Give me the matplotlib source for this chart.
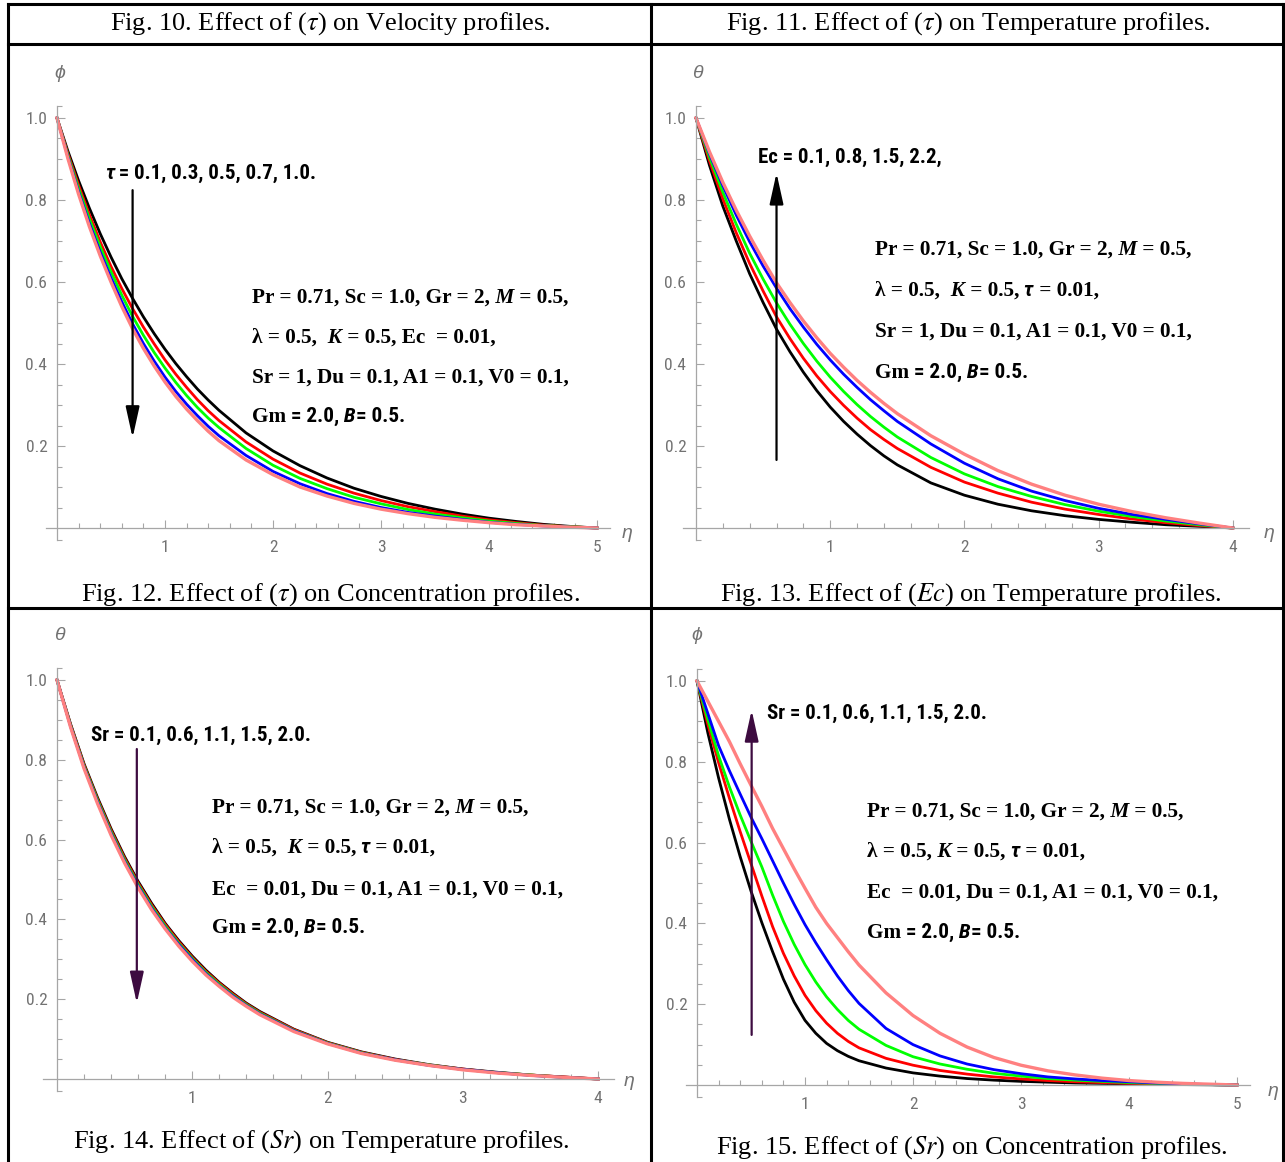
import matplotlib
matplotlib.use("Agg")
import matplotlib.pyplot as plt
from matplotlib import font_manager
from matplotlib.lines import Line2D

W, H = 1285, 1162

# --- data --------------------------------------------------------------
ETA5 = [0.0, 0.1, 0.2, 0.3, 0.4, 0.5, 0.6, 0.7, 0.8, 0.9, 1.0, 1.1, 1.2, 1.3, 1.4, 1.5,
        1.75, 2.0, 2.25, 2.5, 2.75, 3.0, 3.25, 3.5, 3.75, 4.0, 4.25, 4.5, 4.75, 5.0]
ETA4 = [0.0, 0.1, 0.2, 0.3, 0.4, 0.5, 0.6, 0.7, 0.8, 0.9, 1.0, 1.1, 1.2, 1.3, 1.4, 1.5,
        1.75, 2.0, 2.25, 2.5, 2.75, 3.0, 3.25, 3.5, 3.75, 4.0]

# Fig. 12 : tau = 0.1, 0.3, 0.5, 0.7, 1.0  (phi)
TAU_BLACK = [1.0, .92, .847, .78, .718, .661, .608, .56, .515, .474, .436, .401, .369, .339, .312,
             .287, .232, .188, .152, .122, .097, .077, .06, .046, .034, .024, .016, .009, .004, 0.0]
TAU_RED = [1.0, .914, .836, .764, .698, .638, .584, .535, .49, .449, .41, .375, .343, .313, .286,
           .262, .21, .168, .134, .107, .085, .067, .052, .04, .029, .02, .013, .007, .003, 0.0]
TAU_GREEN = [1.0, .91, .828, .754, .686, .625, .568, .516, .47, .428, .39, .355, .323, .294, .268,
             .245, .194, .153, .121, .096, .075, .059, .045, .034, .025, .017, .011, .006, .003, 0.0]
TAU_BLUE = [1.0, .906, .82, .743, .673, .61, .552, .498, .45, .407, .368, .333, .302, .274, .248,
            .225, .177, .138, .108, .084, .065, .05, .038, .029, .021, .014, .009, .005, .002, 0.0]
TAU_PINK = [1.0, .902, .814, .735, .664, .60, .54, .486, .438, .395, .356, .321, .29, .262, .236,
            .213, .166, .13, .10, .078, .06, .046, .035, .026, .019, .013, .008, .005, .002, 0.0]

# Fig. 13 : Ec = 0.1, 0.8, 1.5, 2.2  (theta)
EC_BLACK = [1.0, .885, .785, .70, .62, .55, .485, .43, .38, .335, .295, .26, .229, .201, .176,
            .154, .11, .08, .058, .042, .03, .021, .014, .008, .004, 0.0]
EC_RED = [1.0, .896, .803, .72, .645, .578, .515, .462, .414, .371, .333, .299, .268, .24, .216,
          .194, .148, .112, .085, .063, .046, .033, .022, .013, .006, 0.0]
EC_GREEN = [1.0, .905, .819, .741, .67, .607, .549, .497, .45, .407, .368, .333, .301, .272, .246,
            .222, .172, .132, .101, .077, .057, .041, .028, .017, .008, 0.0]
EC_BLUE = [1.0, .913, .835, .763, .698, .639, .585, .535, .49, .448, .41, .375, .343, .313, .286,
           .26, .205, .158, .12, .09, .067, .048, .033, .021, .01, 0.0]
EC_PINK = [1.0, .918, .843, .775, .712, .653, .598, .55, .505, .464, .426, .392, .36, .331, .304,
           .279, .225, .18, .14, .107, .08, .058, .04, .025, .012, 0.0]

# Fig. 14 : Sr = 0.1, 0.6, 1.1, 1.5, 2.0  (theta)
SRT_BLACK = [1.0, .89, .79, .705, .627, .557, .495, .44, .39, .347, .308, .273, .242, .215, .19,
             .169, .125, .092, .068, .05, .036, .025, .017, .01, .005, 0.0]
SRT_RED = [1.0, .888, .787, .701, .623, .553, .491, .436, .387, .344, .305, .27, .24, .213, .188,
           .167, .124, .091, .067, .049, .035, .025, .016, .01, .005, 0.0]
SRT_GREEN = [1.0, .886, .784, .698, .619, .549, .487, .432, .383, .34, .302, .267, .237, .21, .186,
             .165, .122, .09, .066, .048, .035, .024, .016, .01, .004, 0.0]
SRT_BLUE = [1.0, .884, .781, .694, .615, .545, .483, .428, .379, .337, .299, .264, .234, .208, .184,
            .163, .121, .089, .065, .048, .034, .024, .016, .009, .004, 0.0]
SRT_PINK = [1.0, .882, .778, .69, .611, .541, .479, .424, .376, .333, .295, .261, .232, .205, .182,
            .161, .119, .088, .064, .047, .034, .023, .015, .009, .004, 0.0]

# Fig. 15 : Sr = 0.1, 0.6, 1.1, 1.5, 2.0  (phi)
SRC_BLACK = [1.0, .872, .76, .658, .565, .48, .402, .33, .262, .205, .16, .128, .103, .085, .071,
             .06, .042, .03, .022, .016, .012, .009, .007, .005, .004, .003, .002, .001, .0005, 0.0]
SRC_RED = [1.0, .893, .798, .71, .627, .548, .468, .392, .326, .27, .222, .184, .153, .128, .108,
           .092, .066, .049, .036, .027, .02, .015, .011, .008, .006, .004, .003, .002, .001, 0.0]
SRC_GREEN = [1.0, .905, .815, .738, .668, .603, .54, .47, .405, .348, .298, .255, .218, .187, .16,
             .138, .098, .07, .052, .039, .029, .022, .016, .012, .009, .006, .004, .002, .001, 0.0]
SRC_BLUE = [1.0, .92, .84, .778, .72, .663, .61, .555, .50, .447, .397, .352, .31, .27, .234,
            .202, .14, .10, .072, .052, .038, .028, .02, .015, .011, .008, .005, .003, .001, 0.0]
SRC_PINK = [1.0, .95, .90, .85, .795, .742, .69, .635, .585, .535, .487, .44, .40, .365, .33,
            .297, .228, .172, .128, .094, .068, .049, .035, .025, .017, .011, .007, .004, .002, 0.0]

COLORS = ["black", "#ff0000", "#00ff00", "#0000ff", "#ff8080"]

# --- fonts ----------------------------------------------------------------
installed = {f.name for f in font_manager.fontManager.ttflist}
NARROW = "Roboto Condensed" if "Roboto Condensed" in installed else "Liberation Sans"
SERIF = "Liberation Serif"
plt.rcParams["mathtext.fontset"] = "stix"
plt.rcParams["font.family"] = [SERIF, "DejaVu Sans"]

GREY = "#727272"
AXIS_GREY = "#a6a6a6"

fig = plt.figure(figsize=(W / 100, H / 100), dpi=100)
fig.patch.set_facecolor("white")


def px(x, y):
    return x / W, 1 - y / H


def frame_line(x0, y0, x1, y1):
    fig.add_artist(Line2D([x0 / W, x1 / W], [1 - y0 / H, 1 - y1 / H],
                          transform=fig.transFigure, color="black", lw=2.2))


def rich(x, y, parts, size):
    """Writes text pieces one after another on a common baseline (pixel coords)."""
    r = fig.canvas.get_renderer()
    for s, fam, weight, style in parts:
        t = fig.text(x / W, 1 - y / H, s, fontsize=size, family=[fam, "DejaVu Sans"],
                     weight=weight, style=style, va="baseline", ha="left")
        x += t.get_window_extent(r).width


def make_panel(x0, ppx, y0, ppy, xmax, series, eta):
    xlim = (-0.5, xmax + 0.6)
    ylim = (-0.15, 1.2)
    left = x0 + xlim[0] * ppx
    width = (xlim[1] - xlim[0]) * ppx
    bottom = y0 - ylim[0] * ppy
    height = (ylim[1] - ylim[0]) * ppy
    ax = fig.add_axes([left / W, 1 - bottom / H, width / W, height / H])
    ax.set_xlim(*xlim)
    ax.set_ylim(*ylim)
    ax.patch.set_alpha(0)

    for vals, c in zip(series, COLORS):
        lw = 2.4 if c == "#ff8080" else 2.0
        ax.plot(eta, vals, color=c, lw=lw, solid_joinstyle="round", clip_on=False)

    for side in ("top", "right"):
        ax.spines[side].set_visible(False)
    ax.spines["left"].set_position(("data", 0))
    ax.spines["bottom"].set_position(("data", 0))
    ax.spines["left"].set_bounds(-0.03, 1.03)
    ax.spines["bottom"].set_bounds(-0.1, xmax + 0.12)
    for side in ("left", "bottom"):
        ax.spines[side].set_color(AXIS_GREY)
        ax.spines[side].set_linewidth(0.9)

    xmaj = list(range(1, xmax + 1))
    xmin = [i / 5 for i in range(1, xmax * 5) if i % 5]
    ax.set_xticks(xmaj)
    ax.set_xticklabels([str(v) for v in xmaj])
    ax.set_xticks(xmin, minor=True)
    ax.set_yticks([0.2, 0.4, 0.6, 0.8, 1.0])
    ax.set_yticklabels(["0.2", "0.4", "0.6", "0.8", "1.0"])
    ax.set_yticks([-0.03] + [i / 20 for i in range(1, 20) if i % 4] + [1.03], minor=True)

    ax.tick_params(which="both", direction="in", color=AXIS_GREY, width=0.8,
                   labelcolor=GREY, labelsize=12.5)
    ax.tick_params(which="major", length=6)
    ax.tick_params(which="minor", length=3.5)
    ax.tick_params(axis="x", which="major", pad=9)
    ax.tick_params(axis="y", which="major", pad=7)
    for lab in ax.get_xticklabels() + ax.get_yticklabels():
        lab.set_family([NARROW, "DejaVu Sans"])
    return ax


def axis_label(x, y, s):
    fig.text(*px(x, y), s, fontsize=14, color=GREY, style="italic",
             family=["Liberation Sans", "DejaVu Sans"], ha="center", va="center")


# --- table frame ------------------------------------------------------------
frame_line(8, 4, 1283, 4)
frame_line(8, 44, 1283, 44)
frame_line(8, 608, 1283, 608)
frame_line(8, 4, 8, 1162)
frame_line(651, 4, 651, 1162)
frame_line(1283, 4, 1283, 1162)

cap = dict(fontsize=19, family=[SERIF, "DejaVu Sans"], ha="center", va="center")
fig.text(*px(330, 24), r"Fig. 10. Effect of ($\tau$) on Velocity profiles.", **cap)
fig.text(*px(968, 24), r"Fig. 11. Effect of ($\tau$) on Temperature profiles.", **cap)
fig.text(*px(330, 595), r"Fig. 12. Effect of ($\tau$) on Concentration profiles.", **cap)
fig.text(*px(971, 595), r"Fig. 13. Effect of ($Ec$) on Temperature profiles.", **cap)
fig.text(*px(321, 1142), r"Fig. 14. Effect of ($Sr$) on Temperature profiles.", **cap)
fig.text(*px(972, 1148), r"Fig. 15. Effect of ($Sr$) on Concentration profiles.", **cap)

# --- panels -----------------------------------------------------------------
ax1 = make_panel(57, 108, 528, 410, 5,
                 [TAU_BLACK, TAU_RED, TAU_GREEN, TAU_BLUE, TAU_PINK], ETA5)
ax2 = make_panel(696, 134.2, 528, 410, 4,
                 [EC_BLACK, EC_RED, EC_GREEN, EC_BLUE, EC_PINK], ETA4)
ax3 = make_panel(57, 135.3, 1079, 399, 4,
                 [SRT_BLACK, SRT_RED, SRT_GREEN, SRT_BLUE, SRT_PINK], ETA4)
ax4 = make_panel(697, 108, 1085, 404, 5,
                 [SRC_BLACK, SRC_RED, SRC_GREEN, SRC_BLUE, SRC_PINK], ETA5)

axis_label(60, 73, "ϕ")
axis_label(627, 533, "η")
axis_label(697, 73, "θ")
axis_label(1269, 533, "η")
axis_label(59, 636, "θ")
axis_label(629, 1082, "η")
axis_label(697, 636, "ϕ")
axis_label(1273, 1092, "η")

# arrows
PURPLE = "#3d0b40"
for ax, x, y_from, y_to, col in [(ax1, 0.70, 0.824, 0.22, "black"),
                                 (ax2, 0.60, 0.166, 0.866, "black"),
                                 (ax3, 0.59, 0.827, 0.19, PURPLE),
                                 (ax4, 0.506, 0.124, 0.928, PURPLE)]:
    ax.annotate("", xy=(x, y_to), xytext=(x, y_from),
                arrowprops=dict(arrowstyle="-|>,head_length=1.9,head_width=0.42",
                                mutation_scale=10, lw=1.6, color=col,
                                shrinkA=0, shrinkB=0))

# --- annotation texts -------------------------------------------------------
B, N, I = "bold", "normal", "italic"
rich(105, 179, [("τ", NARROW, B, I), (" = 0.1, 0.3, 0.5, 0.7, 1.0.", NARROW, B, N)], 15)
rich(758, 163, [("Ec = 0.1, 0.8, 1.5, 2.2,", NARROW, B, N)], 15)
rich(91, 741, [("Sr = 0.1, 0.6, 1.1, 1.5, 2.0.", NARROW, B, N)], 15)
rich(767, 719, [("Sr = 0.1, 0.6, 1.1, 1.5, 2.0.", NARROW, B, N)], 15)

PSIZE = 15.3
line1 = [("Pr = 0.71, Sc = 1.0, Gr = 2,", SERIF, B, N), (" M", SERIF, B, I),
         (" = 0.5,", SERIF, B, N)]
line_gm = [("Gm", SERIF, B, N), (" = 2.0,", NARROW, B, N), (" B", NARROW, B, I),
           ("= 0.5.", NARROW, B, N)]

# Fig. 12
rich(252, 303, line1, PSIZE)
rich(252, 343, [("λ = 0.5,", SERIF, B, N), ("  K", SERIF, B, I),
                (" = 0.5, Ec  = 0.01,", SERIF, B, N)], PSIZE)
rich(252, 383, [("Sr = 1, Du = 0.1, A1 = 0.1, V0 = 0.1,", SERIF, B, N)], PSIZE)
rich(252, 422, line_gm, PSIZE)

# Fig. 13
rich(875, 255, line1, PSIZE)
rich(875, 296, [("λ = 0.5,", SERIF, B, N), ("  K", SERIF, B, I), (" = 0.5,", SERIF, B, N),
                (" τ", NARROW, B, I), (" = 0.01,", SERIF, B, N)], PSIZE)
rich(875, 337, [("Sr = 1, Du = 0.1, A1 = 0.1, V0 = 0.1,", SERIF, B, N)], PSIZE)
rich(875, 378, line_gm, PSIZE)

# Fig. 14
rich(212, 813, line1, PSIZE)
rich(212, 853, [("λ = 0.5,", SERIF, B, N), ("  K", SERIF, B, I), (" = 0.5,", SERIF, B, N),
                (" τ", NARROW, B, I), (" = 0.01,", SERIF, B, N)], PSIZE)
rich(212, 895, [("Ec  = 0.01, Du = 0.1, A1 = 0.1, V0 = 0.1,", SERIF, B, N)], PSIZE)
rich(212, 933, line_gm, PSIZE)

# Fig. 15
rich(867, 817, line1, PSIZE)
rich(867, 857, [("λ = 0.5,", SERIF, B, N), (" K", SERIF, B, I), (" = 0.5,", SERIF, B, N),
                (" τ", NARROW, B, I), (" = 0.01,", SERIF, B, N)], PSIZE)
rich(867, 898, [("Ec  = 0.01, Du = 0.1, A1 = 0.1, V0 = 0.1,", SERIF, B, N)], PSIZE)
rich(867, 938, line_gm, PSIZE)

fig.savefig("out.png", dpi=100)
